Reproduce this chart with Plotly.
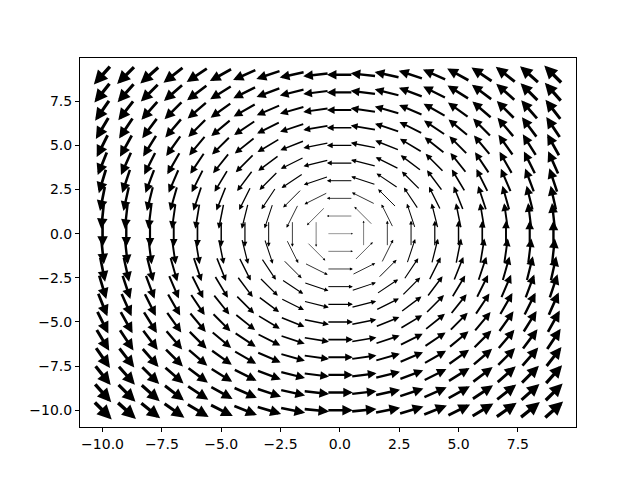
import numpy as np
import plotly.graph_objects as go

# grid of the vector field
x_vals = list(range(-10, 10))
y_vals = list(range(-10, 10))

# axis setup (matches the reference frame)
x_range = [-10.95, 9.95]
y_range = [-10.95, 9.95]
tick_vals = [-10.0, -7.5, -5.0, -2.5, 0.0, 2.5, 5.0, 7.5]
tick_text = ['\u221210.0', '\u22127.5', '\u22125.0', '\u22122.5', '0.0', '2.5', '5.0', '7.5']

# page body has an 8px margin, so the figure is a bit smaller than the window
W, H = 632, 472
margin = dict(l=72, r=64, t=50, b=53)
kx = (W - margin['l'] - margin['r']) / (x_range[1] - x_range[0])
ky = (H - margin['t'] - margin['b']) / (y_range[1] - y_range[0])
half_len = 13  # half arrow length in px, arrows pivot at the middle

fig = go.Figure()
# invisible trace so the axes exist
fig.add_trace(go.Scatter(x=x_vals, y=y_vals, mode='markers', marker=dict(opacity=0), hoverinfo='skip', showlegend=False))

annotations = []
for yv in y_vals:
    for xv in x_vals:
        u, v = -yv, xv
        r = np.hypot(u, v)
        if r == 0:
            cx, cy, w = 1.0, 0.0, 0.4
        else:
            # arrows all the same length, thickness grows with magnitude
            cx, cy, w = u / r, v / r, 0.28 + 0.235 * r
        dx = half_len * cx / kx
        dy = half_len * cy / ky
        annotations.append(dict(
            x=xv + dx, y=yv + dy, ax=xv - dx, ay=yv - dy,
            xref='x', yref='y', axref='x', ayref='y',
            text='', showarrow=True, arrowhead=2, arrowsize=0.8,
            arrowwidth=w, arrowcolor='black', standoff=0, startstandoff=0,
        ))

fig.update_layout(
    width=W, height=H, margin=margin,
    paper_bgcolor='white', plot_bgcolor='white',
    font=dict(family='DejaVu Sans', size=14, color='black'),
    annotations=annotations,
    showlegend=False,
)
axis_style = dict(showgrid=False, zeroline=False, showline=True, mirror=True,
                  linecolor='black', linewidth=1, ticks='outside', ticklen=4,
                  tickcolor='black', tickvals=tick_vals, ticktext=tick_text)
fig.update_xaxes(range=x_range, **axis_style)
fig.update_yaxes(range=y_range, **axis_style)

fig.write_html("out.html")
